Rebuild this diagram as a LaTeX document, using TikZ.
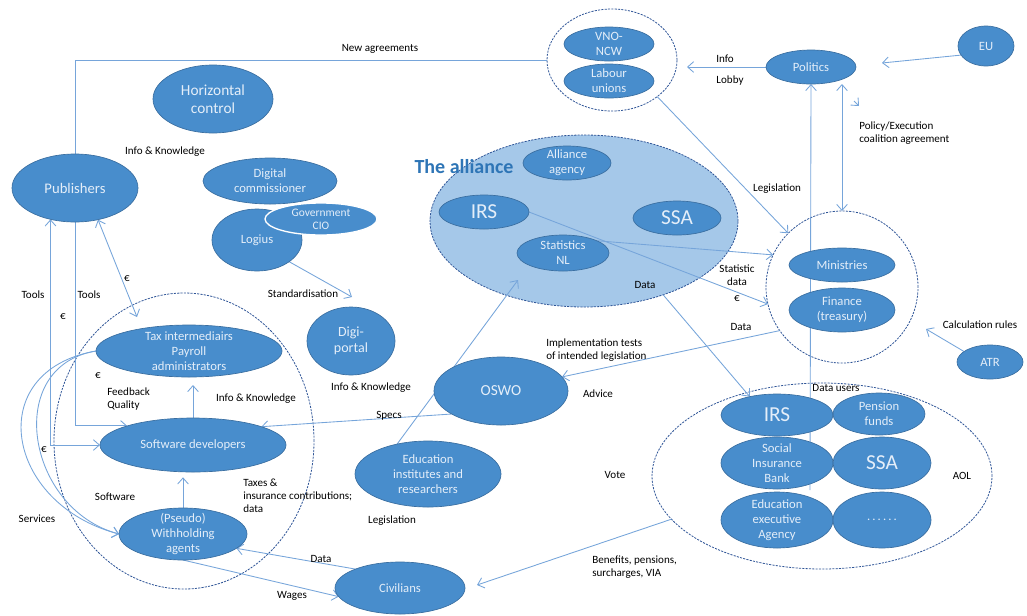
\documentclass[tikz,border=0pt]{standalone}
\usepackage{fontspec}
\setmainfont{Carlito}
\usetikzlibrary{shapes.geometric,arrows.meta,calc}
\definecolor{efill}{RGB}{72,141,204}
\definecolor{edraw}{RGB}{58,110,160}
\definecolor{ntext}{RGB}{228,238,249}
\definecolor{lcol}{RGB}{118,165,218}
\definecolor{dcol}{RGB}{47,85,151}
\definecolor{afill}{RGB}{165,200,233}
\definecolor{atitle}{RGB}{46,117,182}
\pgfdeclarelayer{bg}\pgfdeclarelayer{mid}\pgfsetlayers{bg,mid,main}
\tikzset{
 ell/.style 2 args={ellipse, draw=edraw, fill=efill, line width=0.5pt, inner sep=0pt, outer sep=0pt, minimum width=#1*1.5pt, minimum height=#2*1.5pt},
 nt/.style={text=ntext, align=center, inner sep=0pt, font=\fontsize{9.5}{11.25}\selectfont},
 grp/.style 2 args={ellipse, draw=dcol, dash pattern=on 1.6pt off 0.9pt, line width=0.6pt, inner sep=0pt, outer sep=0pt, minimum width=#1*1.5pt, minimum height=#2*1.5pt},
 conn/.style={draw=lcol, line width=0.65pt},
 arr/.style={conn, -{Straight Barb[length=4.5pt,width=8pt]}},
 darr/.style={conn, {Straight Barb[length=4.5pt,width=8pt]}-{Straight Barb[length=4.5pt,width=8pt]}},
 lbl/.style={inner sep=0pt, font=\fontsize{8.3}{9.8}\selectfont, align=center},
 lbll/.style={lbl, align=left, anchor=west},
}
\begin{document}
\begin{tikzpicture}[x=0.75pt,y=-0.75pt]
\useasboundingbox (0,0) rectangle (1027,615);
% group outlines
\begin{pgfonlayer}{bg}
\node[grp={65}{51}] (vnoc) at (612,60) {};
\node[grp={76}{76}] (minc) at (842,287) {};
\node[grp={130}{148}] (grpL) at (184,441) {};
\node[grp={170}{93}] (aol) at (822,476) {};
\node[grp={154}{86}, fill=afill] (all) at (584,221) {};
\end{pgfonlayer}
% nodes
\node[ell={60}{34}, label={[nt,font=\fontsize{11.5}{13.5}\selectfont]center:Horizontal\\control}] (hc) at (213,99) {};
\node[ell={63}{34}, label={[nt,font=\fontsize{11}{13}\selectfont]center:Publishers}] (pub) at (75,188) {};
\node[ell={67}{23}, label={[nt]center:Digital\\commissioner}] (dc) at (270,181) {};
\node[ell={45}{31}, label={[nt]center:Logius}] (lg) at (257,240) {};
\node[ell={56}{16}, draw=white, line width=1pt, label={[nt,font=\fontsize{8.6}{10}\selectfont]center:Government\\CIO}] (cio) at (321,219) {};
\node[ell={44}{34}, label={[nt,font=\fontsize{10.5}{12}\selectfont]center:Digi-\\portal}] (dp) at (351,341) {};
\node[ell={93}{26}, label={[nt]center:Tax intermediairs\\Payroll\\administrators}] (tax) at (189,351) {};
\node[ell={93}{27}, label={[nt]center:Software developers}] (swd) at (193,445) {};
\node[ell={64}{26}, label={[nt]center:(Pseudo)\\Withholding\\agents}] (wh) at (183,534) {};
\node[ell={65}{26}, label={[nt]center:Civilians}] (civ) at (400,588) {};
\node[ell={73}{33}, label={[nt]center:Education\\institutes and\\researchers}] (edu) at (428,474) {};
\node[ell={67}{34}, label={[nt,font=\fontsize{11.5}{13}\selectfont]center:OSWO}] (oswo) at (501,391) {};
\node[ell={44}{17}, label={[nt]center:Alliance\\agency}] (aa) at (567,163) {};
\node[ell={45}{17}, label={[nt,font=\fontsize{16}{18}\selectfont]center:IRS}] (irsA) at (484,212) {};
\node[ell={44}{17}, label={[nt,font=\fontsize{16}{18}\selectfont]center:SSA}] (ssaA) at (677,218) {};
\node[ell={46}{18}, label={[nt]center:Statistics\\NL}] (stat) at (563,253) {};
\node[ell={45}{17}, label={[nt]center:VNO-\\NCW}] (vno) at (609,44) {};
\node[ell={45}{17}, label={[nt]center:Labour\\unions}] (lab) at (609,81) {};
\node[ell={45}{17}, label={[nt]center:Politics}] (pol) at (811,67) {};
\node[ell={28}{20}, label={[nt]center:EU}] (eu) at (986,46) {};
\node[ell={53}{17}, label={[nt]center:Ministries}] (min) at (842,265) {};
\node[ell={53}{22}, label={[nt]center:Finance\\(treasury)}] (fin) at (842,310) {};
\node[ell={33}{17}, label={[nt]center:ATR}] (atr) at (990,362) {};
\node[ell={56}{21}, label={[nt,font=\fontsize{16}{18}\selectfont]center:IRS}] (irsB) at (777,415) {};
\node[ell={46}{21}, label={[nt]center:Pension\\funds}] (pen) at (879,414) {};
\node[ell={56}{26}, label={[nt]center:Social\\Insurance\\Bank}] (sib) at (777,463) {};
\node[ell={49}{26}, label={[nt,font=\fontsize{16}{18}\selectfont]center:SSA}] (ssaB) at (882,463) {};
\node[ell={56}{28}, label={[nt]center:Education\\executive\\Agency}] (eea) at (777,520) {};
\node[ell={49}{28}, label={[nt]center:.\,.\,.\,.\,.\,.}] (dots) at (882,520) {};
\node[inner sep=0pt, text=atitle, font=\fontsize{15}{17}\selectfont\bfseries] (tat) at (464,167) {The alliance};
% connectors
\coordinate (eduTip) at (518,280);
\coordinate (civTip) at (477,585);
\coordinate (euTip) at (882,63);
\coordinate (voteEnd) at (810,490);
\coordinate (atrTip) at (926,329);
\coordinate (pubTip) at (137,317);
\coordinate (dpTip) at (352,297);
\coordinate (sA) at (854,101);
\coordinate (sB) at (859,106);
\begin{pgfonlayer}{mid}
\draw[conn] (vnoc.west) -| (pub.north);
\draw[arr] (pub.south) |- (swd.north west);
\draw[darr] (pub.232) |- (swd.west);
\draw[darr] (pub.-54) -- (pubTip);
\draw[arr] (lg.-34) -- (dpTip);
\draw[arr, shorten >=6pt] (swd.north) -- (swd.north |- tax.south);
\draw[arr, shorten >=4pt] (wh.north) -- (wh.north |- swd.south);
\draw[arr] (tax.west) .. controls ($(tax.west)+(-114,20)$) and ($(wh.west)+(-114,-30)$) .. (wh.west);
\draw[arr] (tax.west) .. controls ($(tax.west)+(-93,15)$) and ($(wh.west)+(-93,-25)$) .. (wh.west);
\draw[arr] (oswo.205) -- (swd.15);
\draw[arr] (edu.136) -- (eduTip);
\draw[arr] (civ.157) -- (wh.-15);
\draw[arr] (wh.south) -- (civ.188);
\draw[arr] (aol.196) -- (civTip);
\draw[arr] (all.-43) -- (irsB.146);
\draw[arr] (minc.215) -- (oswo.13);
\draw[arr] (irsA.east) -- (minc.193);
\draw[arr] (stat.20) -- (minc.155);
\draw[arr] (vnoc.-39) -- (minc.135);
\draw[arr, shorten >=7.5pt] (pol.west) -- (pol.west -| vnoc.east);
\draw[arr] (eu.200) -- (euTip);
\draw[darr] (minc.north) -- (minc.north |- pol.south);
\draw[arr] (voteEnd) -- (pol.south);
\draw[arr] (atr.158) -- (atrTip);
\draw[arr] (sA) -- (sB);
\end{pgfonlayer}
% labels
\node[lbl] (l1) at (380,49) {New agreements};
\node[lbl] (l2) at (165,152) {Info \& Knowledge};
\node[lbl] (l3) at (33,295) {Tools};
\node[lbl] (l4) at (89,295) {Tools};
\node[lbl] (l5) at (127,279) {€};
\node[lbl] (l6) at (63,317) {€};
\node[lbl] (l7) at (98,376) {€};
\node[lbl] (l8) at (44,450) {€};
\node[lbl] (l9) at (303,294) {Standardisation};
\node[lbl] (l10) at (371,388) {Info \& Knowledge};
\node[lbll] (l11) at (107,399) {Feedback\\Quality};
\node[lbl] (l12) at (256,399) {Info \& Knowledge};
\node[lbl] (l13) at (115,497) {Software};
\node[lbl] (l14) at (37,519) {Services};
\node[lbll] (l15) at (243,496) {Taxes \&\\insurance contributions;\\data};
\node[lbl] (l16) at (321,559) {Data};
\node[lbl] (l17) at (292,596) {Wages};
\node[lbl] (l18) at (389,416) {Specs};
\node[lbl] (l19) at (392,521) {Legislation};
\node[lbll] (l20) at (546,350.5) {Implementation tests\\of intended legislation};
\node[lbl] (l21) at (598,394) {Advice};
\node[lbl] (l22) at (645,285) {Data};
\node[lbl] (l23) at (737,275.5) {Statistic\\data};
\node[lbl] (l24) at (737,299) {€};
\node[lbl] (l25) at (741,327) {Data};
\node[lbl] (l26) at (777,189) {Legislation};
\node[lbl] (l27) at (725,59) {Info};
\node[lbl] (l28) at (730,81) {Lobby};
\node[lbll] (l29) at (859,133.5) {Policy/Execution\\coalition agreement};
\node[lbl] (l30) at (980,325) {Calculation rules};
\node[lbl] (l31) at (836,388) {Data users};
\node[lbl] (l32) at (615,475) {Vote};
\node[lbl] (l33) at (962,476) {AOL};
\node[lbll] (l34) at (592,567) {Benefits, pensions,\\surcharges, VIA};
\end{tikzpicture}
\end{document}
